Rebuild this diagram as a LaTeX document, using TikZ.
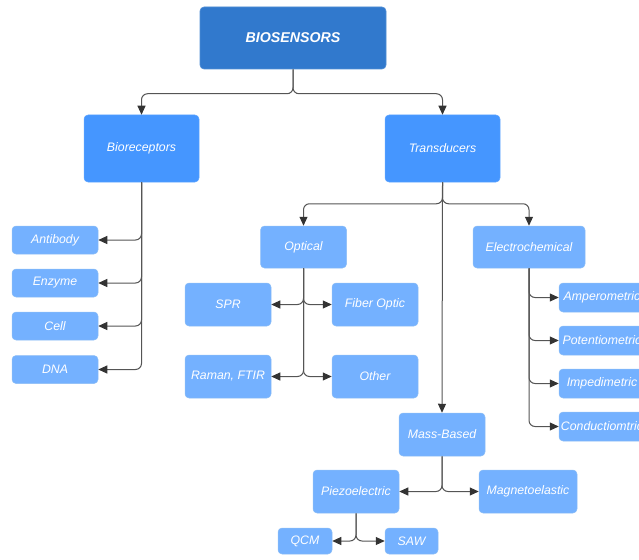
\documentclass[tikz,border=0pt]{standalone}
\usepackage{fontspec}
\setmainfont{Liberation Sans}
\usetikzlibrary{arrows.meta,positioning}

\definecolor{topblue}{HTML}{3179CD}
\definecolor{midblue}{HTML}{4596FF}
\definecolor{leafblue}{HTML}{74B1FF}
\definecolor{leafedge}{HTML}{8DBEF5}
\definecolor{wire}{HTML}{555555}
\definecolor{tipcol}{HTML}{333333}

\tikzset{
  box/.style={rectangle, rounded corners=4pt, inner sep=0pt, align=center,
    text=white, font=\fontsize{12.3}{14}\selectfont\itshape},
  rootbox/.style={box, fill=topblue, draw=topblue!85!white, line width=0.6pt,
    font=\fontsize{14.2}{16}\selectfont\bfseries\itshape},
  midbox/.style={box, fill=midblue, draw=midblue!85!white, line width=0.5pt},
  leaf/.style={box, fill=leafblue, draw=leafedge, line width=0.5pt},
  conn/.style={draw=wire, line width=1pt, rounded corners=6pt,
    -{Triangle[length=9pt,width=8pt,fill=tipcol,color=tipcol]}},
}

\begin{document}
\begin{tikzpicture}[x=1pt,y=-1pt]
\useasboundingbox (0,0) rectangle (639,559);
\clip (0,0) rectangle (639,559);

% top level
\node[rootbox, minimum width=186pt, minimum height=62pt] (bios) at (293,38) {BIOSENSORS};

% second level
\node[midbox, minimum width=115pt, minimum height=67pt] (brc) at (141.5,148.5) {Bioreceptors};
\node[midbox, minimum width=115pt, minimum height=67pt] (trd) at (442.5,148.5) {Transducers};

% bioreceptor types
\node[leaf, minimum width=86pt, minimum height=28pt] (ab)  at (55,240)   {Antibody};
\node[leaf, minimum width=86pt, minimum height=28pt] (enz) at (55,283)   {Enzyme};
\node[leaf, minimum width=86pt, minimum height=28pt] (cel) at (55,326)   {Cell};
\node[leaf, minimum width=86pt, minimum height=28pt] (dna) at (55,369.5) {DNA};

% transducer families
\node[leaf, minimum width=86pt, minimum height=42pt] (opt) at (303.5,247) {Optical};
\node[leaf, minimum width=112pt, minimum height=42pt] (ec) at (529,247) {Electrochemical};
\node[leaf, minimum width=86pt, minimum height=43pt] (mass) at (442,434.5) {Mass-Based};

% optical
\node[leaf, minimum width=86pt, minimum height=43pt] (spr) at (228,304.5) {SPR};
\node[leaf, minimum width=86pt, minimum height=43pt] (fib) at (375,304.5) {Fiber Optic};
\node[leaf, minimum width=86pt, minimum height=43pt] (ram) at (228,376.5) {Raman, FTIR};
\node[leaf, minimum width=86pt, minimum height=43pt] (oth) at (375,376.5) {Other};

% electrochemical
\node[leaf, minimum width=86pt, minimum height=29pt] (amp) at (602,297.5) {Amperometric};
\node[leaf, minimum width=86pt, minimum height=29pt] (pot) at (602,340.5) {Potentiometric};
\node[leaf, minimum width=86pt, minimum height=29pt] (imp) at (602,383.5) {Impedimetric};
\node[leaf, minimum width=86pt, minimum height=29pt] (con) at (602,426.5) {Conductiomtric};

% mass-based
\node[leaf, minimum width=86pt, minimum height=43pt] (pz) at (356,491.5) {Piezoelectric};
\node[leaf, minimum width=98pt, minimum height=43pt] (mg) at (528,491.5) {Magnetoelastic};
\node[leaf, minimum width=54pt, minimum height=26pt] (qcm) at (305,541) {QCM};
\node[leaf, minimum width=53pt, minimum height=26pt] (saw) at (411.5,541) {SAW};

% connectors
\draw[conn] (bios.south) |- ([yshift=21pt]brc.north) -- (brc.north);
\draw[conn] (bios.south) |- ([yshift=21pt]trd.north) -- (trd.north);

\foreach \c in {ab,enz,cel,dna}
  \draw[conn] (brc.south) |- (\c.east);

\draw[conn] (trd.south) |- ([yshift=22pt]opt.north) -- (opt.north);
\draw[conn] (trd.south) |- ([yshift=22pt]ec.north) -- (ec.north);
\draw[conn] (trd.south) -- (mass.north);

\foreach \c in {spr,ram}
  \draw[conn] (opt.south) |- (\c.east);
\foreach \c in {fib,oth}
  \draw[conn] (opt.south) |- (\c.west);

\foreach \c in {amp,pot,imp,con}
  \draw[conn] (ec.south) |- (\c.west);

\draw[conn] (mass.south) |- (pz.east);
\draw[conn] (mass.south) |- (mg.west);

\draw[conn] (pz.south) |- (qcm.east);
\draw[conn] (pz.south) |- (saw.west);
\end{tikzpicture}
\end{document}
